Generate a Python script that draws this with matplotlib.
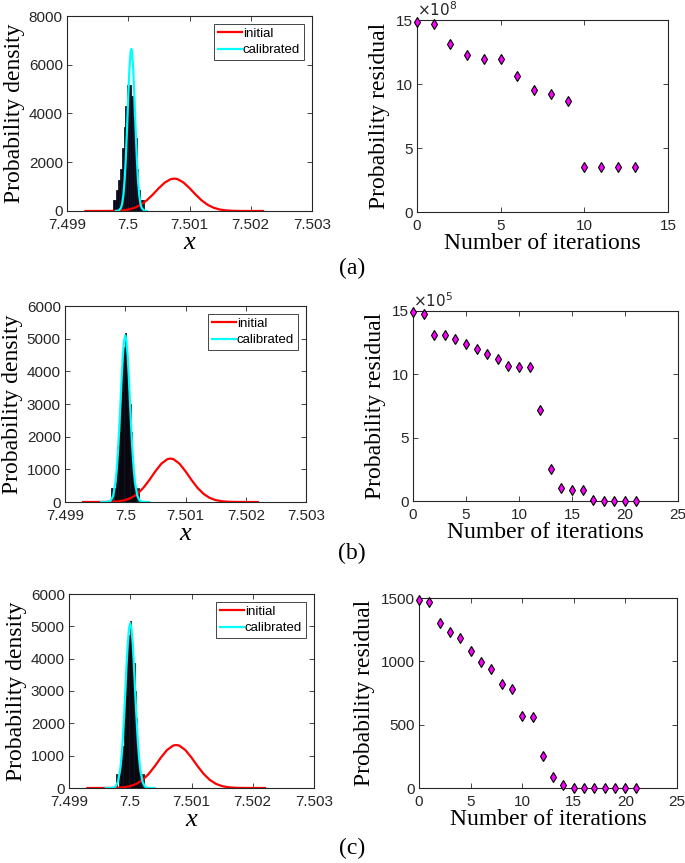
import numpy as np
import matplotlib
matplotlib.use('Agg')
import matplotlib.pyplot as plt

plt.rcParams['font.family'] = ['Liberation Sans', 'DejaVu Sans']

# ---- data ----
x_ticks = [7.499, 7.5, 7.501, 7.502, 7.503]
x_tick_labels = ['7.499', '7.5', '7.501', '7.502', '7.503']

# initial pdf (same in all three rows)
init_x = [7.4993, 7.4995, 7.4997, 7.4998, 7.4999, 7.5000, 7.5001, 7.5002, 7.5003,
          7.5004, 7.5005, 7.5006, 7.5007, 7.50075, 7.5008, 7.5009, 7.5010, 7.5011,
          7.5012, 7.5013, 7.5014, 7.5015, 7.5016, 7.5017, 7.5018, 7.5019, 7.5020, 7.5022]
init_y = [0, 0.2, 3, 9, 24, 58, 127, 248, 432, 673, 940, 1174, 1312, 1330, 1312,
          1174, 940, 673, 432, 248, 127, 58, 24, 9, 3, 1, 0.2, 0]

# calibrated pdf, row (a)
cal_a_x = [7.49980, 7.49984, 7.49988, 7.49990, 7.49992, 7.49994, 7.49996, 7.49998,
           7.50000, 7.50002, 7.50004, 7.50005, 7.50006, 7.50008, 7.50010, 7.50012,
           7.50014, 7.50016, 7.50018, 7.50020, 7.50022, 7.50026, 7.50030]
cal_a_y = [1, 15, 120, 292, 632, 1237, 2160, 3365, 4700, 5870, 6556, 6650, 6556,
           5870, 4700, 3365, 2160, 1237, 632, 292, 120, 15, 1]

# calibrated pdf, rows (b) and (c)
cal_bc_x = [7.49960, 7.49968, 7.49972, 7.49976, 7.49980, 7.49984, 7.49986, 7.49988,
            7.49990, 7.49992, 7.49994, 7.49996, 7.49998, 7.50000, 7.50002, 7.50004,
            7.50006, 7.50008, 7.50010, 7.50012, 7.50014, 7.50016, 7.50020, 7.50024,
            7.50028, 7.50032, 7.50040]
cal_bc_y = [0, 1, 8, 45, 190, 625, 1020, 1560, 2245, 3000, 3793, 4470, 4935, 5100,
            4935, 4470, 3793, 3000, 2245, 1560, 1020, 625, 190, 45, 8, 1, 0]

# histograms of calibrated samples
hist_a_centers = [7.49976, 7.49979, 7.49982, 7.49985, 7.49988, 7.49991, 7.49994,
                  7.49997, 7.50000, 7.50003, 7.50006, 7.50009, 7.50012, 7.50015,
                  7.50018, 7.50021, 7.50024]
hist_a_heights = [450, 450, 860, 1290, 1720, 2580, 3440, 4300, 5160, 5160, 4730,
                  3870, 2990, 1720, 860, 450, 450]
hist_a_width = 0.00003

hist_b_centers = [7.49978, 7.49980, 7.49982, 7.49984, 7.49986, 7.49988, 7.49990,
                  7.49992, 7.49994, 7.49996, 7.49998, 7.50000, 7.50002, 7.50004,
                  7.50006, 7.50008, 7.50010, 7.50012, 7.50014, 7.50016, 7.50018,
                  7.50020, 7.50022]
hist_b_heights = [430, 0, 430, 430, 860, 1720, 2150, 3010, 3870, 4300, 4730, 5160,
                  4730, 4300, 3440, 3010, 2150, 1290, 860, 430, 430, 0, 430]
hist_c_heights = [430, 0, 430, 860, 860, 1290, 2150, 3010, 3870, 4300, 4730, 5160,
                  4730, 4300, 3870, 3010, 2150, 1290, 860, 430, 430, 0, 430]
hist_bc_width = 0.00002

# probability residual vs iterations
iters_a = list(range(14))
residual_a = [14.84, 14.71, 13.09, 12.25, 11.96, 11.96, 10.63, 9.50, 9.24, 8.66,
              3.53, 3.53, 3.53, 3.48]          # x 1e8
iters_b = list(range(22))
residual_b = [14.92, 14.76, 13.12, 13.12, 12.78, 12.41, 12.01, 11.64, 11.22, 10.66,
              10.61, 10.61, 7.17, 2.51, 1.06, 0.85, 0.85, 0.05, 0.0, 0.0, 0.0, 0.0]  # x 1e5
iters_c = list(range(22))
residual_c = [1484, 1468, 1306, 1232, 1187, 1085, 998, 943, 820, 778, 567, 557,
              252, 89, 21, 0, 0, 0, 0, 0, 0, 0]

# ---- figure ----
W, H = 685, 863
fig = plt.figure(figsize=(W / 100, H / 100), dpi=100)
AX_COL = '#262626'
SERIF = ['Liberation Serif', 'DejaVu Serif']


def px_axes(l, t, r, b):
    return fig.add_axes([l / W, 1 - b / H, (r - l) / W, (b - t) / H])


def style(ax):
    for s in ax.spines.values():
        s.set_color(AX_COL)
        s.set_linewidth(0.8)
    ax.tick_params(direction='in', top=True, right=True, length=3.5, width=0.6,
                   colors=AX_COL, labelsize=11)
    ax.tick_params(axis='x', pad=5)
    ax.tick_params(axis='y', pad=3)


def pdf_panel(ax, h_cent, h_ht, h_w, cal_x, cal_y, ymax, ystep):
    ax.bar(h_cent, h_ht, width=h_w, color='#10102e', edgecolor='black', linewidth=0.5)
    ax.plot(init_x, init_y, color='red', lw=1.6, label='initial')
    ax.plot(cal_x, cal_y, color='cyan', lw=1.6, label='calibrated')
    ax.set_xlim(7.499, 7.503)
    ax.set_ylim(0, ymax)
    ax.set_xticks(x_ticks)
    ax.set_xticklabels(x_tick_labels)
    ax.set_yticks(np.arange(0, ymax + 1, ystep))
    style(ax)
    ax.set_ylabel('Probability density', family=SERIF, fontsize=17, labelpad=3)
    ax.set_xlabel('x', family=SERIF, style='italic', fontsize=19, labelpad=0)
    leg = ax.legend(loc='upper right', fontsize=9.5, handlelength=1.8, handletextpad=0.1,
                    borderpad=0.3, labelspacing=0.3, fancybox=False, framealpha=1,
                    borderaxespad=0.6)
    leg.get_frame().set_edgecolor(AX_COL)
    leg.get_frame().set_linewidth(0.6)


def res_panel(ax, it, res, xmax, ymax, ystep, expo=None):
    ax.plot(it, res, linestyle='none', marker='d', markersize=5, markerfacecolor='#ff00ff',
            markeredgecolor='black', markeredgewidth=0.8, clip_on=False, zorder=3)
    ax.set_xlim(0, xmax)
    ax.set_ylim(0, ymax)
    ax.set_xticks(np.arange(0, xmax + 1, 5))
    ax.set_yticks(np.arange(0, ymax + 1, ystep))
    style(ax)
    ax.set_ylabel('Probability residual', family=SERIF, fontsize=17, labelpad=4)
    ax.set_xlabel('Number of iterations', family=SERIF, fontsize=17, labelpad=0)
    if expo is not None:
        ax.text(0.0, 1.005, r'$\times10^{%d}$' % expo, transform=ax.transAxes,
                fontsize=11, color=AX_COL, ha='left', va='bottom')


# row (a)
ax1 = px_axes(67, 16, 312, 211)
pdf_panel(ax1, hist_a_centers, hist_a_heights, hist_a_width, cal_a_x, cal_a_y, 8000, 2000)
ax2 = px_axes(417, 20, 668, 212)
res_panel(ax2, iters_a, residual_a, 15, 15, 5, expo=8)

# row (b)
ax3 = px_axes(65, 306, 306, 502)
pdf_panel(ax3, hist_b_centers, hist_b_heights, hist_bc_width, cal_bc_x, cal_bc_y, 6000, 1000)
ax4 = px_axes(413, 311, 678, 501)
res_panel(ax4, iters_b, residual_b, 25, 15, 5, expo=5)

# row (c)
ax5 = px_axes(69, 594, 314, 788)
pdf_panel(ax5, hist_b_centers, hist_c_heights, hist_bc_width, cal_bc_x, cal_bc_y, 6000, 1000)
ax6 = px_axes(419, 598, 677, 788)
res_panel(ax6, iters_c, residual_c, 25, 1500, 500)

for lab, y in [('(a)', 268), ('(b)', 553), ('(c)', 848)]:
    fig.text(352 / W, 1 - y / H, lab, family=SERIF, fontsize=17, ha='center', va='center')

fig.savefig('out.png', dpi=100)
